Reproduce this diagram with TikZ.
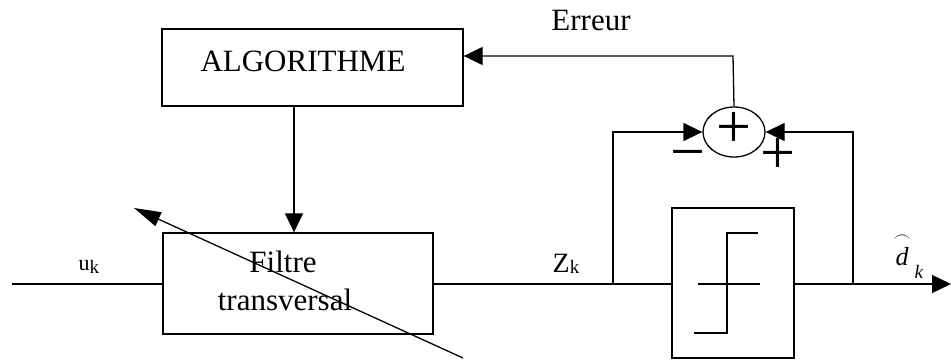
\documentclass[tikz,border=0pt]{standalone}
\usepackage{amsmath}
\usepackage{fontspec}
\setmainfont{Liberation Serif}
\usetikzlibrary{arrows.meta,shapes.geometric}

\begin{document}
\begin{tikzpicture}[x=1pt,y=-1pt,line width=1.3pt,
  block/.style={draw,rectangle,inner sep=0pt},
  flow/.style={-{Triangle[length=19pt,width=18pt]}},
  adjust/.style={-{Triangle[length=27pt,width=15pt]}},
  lbl/.style={inner sep=0pt,font=\fontsize{31}{31}\selectfont},
  sign/.style={inner sep=0pt,font=\fontsize{62}{62}\selectfont}]
\useasboundingbox (0,0) rectangle (951,359);

% blocks
\node[block,minimum width=301pt,minimum height=77pt] (algo) at (312.5,67.5) {};
\node[block,minimum width=270pt,minimum height=101pt] (filt) at (298,283.5) {};
\node[block,minimum width=122pt,minimum height=150pt] (dec) at (733,283) {};
\node[draw,ellipse,minimum width=62pt,minimum height=50pt,inner sep=0pt] (sum) at (734,132) {};

% block texts
\node[lbl,anchor=base] (algoT) at (303,71) {ALGORITHME};
\node[lbl,anchor=base] (filtA) at (283,272) {Filtre};
\node[lbl,anchor=base] (filtB) at (285,310) {transversal};
\node[lbl,anchor=base] (err) at (591,30) {Erreur};

% signs of the summer
\node[sign] (plusIn) at (734,130) {+};
\node[sign,anchor=base] (minus) at (687.5,172) {−};
\node[sign] (plusOut) at (778,156) {+};

% hard limiter characteristic
\draw (698,284) -- (760,284);
\draw[line width=1.6pt] (694,333) -- (727,333) -- (727,233) -- (758,233);

% signal labels
\node[anchor=base west,inner sep=0pt] (uk) at (78,270)
  {\fontsize{22}{22}\selectfont u\raisebox{-3pt}{\fontsize{19}{19}\selectfont k}};
\node[anchor=base west,inner sep=0pt] (zk) at (552,272)
  {\fontsize{28}{28}\selectfont Z\raisebox{-1pt}{\fontsize{19}{19}\selectfont k}};
\node[anchor=base west,inner sep=0pt] (dk) at (893,265)
  {\fontsize{26}{26}\selectfont $\overset{\frown}{\textit{d}}$\hspace{4pt}\raisebox{-13pt}{\fontsize{19}{19}\selectfont\itshape k}};

% connectors
\coordinate (in) at (12,284);
\coordinate (out) at (951,284);
\coordinate (tapz) at (613,284);
\coordinate (tapd) at (853,284);
\coordinate (fb) at (733,56);
\coordinate (ctl) at (294,0);
\coordinate (adjA) at (463,358);
\coordinate (adjB) at (134,208);

\draw (in) -- (in -| filt.west);
\draw (in -| filt.east) -- (in -| dec.west);
\draw[flow] (in -| dec.east) -- (out);
\draw[flow] (tapz) |- (sum.west);
\draw[flow] (tapd) |- (sum.east);
\draw[flow] (sum.north) -- (fb) -- (fb -| algo.east);
\draw[flow] (ctl |- algo.south) -- (ctl |- filt.north);
\draw[adjust] (adjA) -- (adjB);
\end{tikzpicture}
\end{document}
